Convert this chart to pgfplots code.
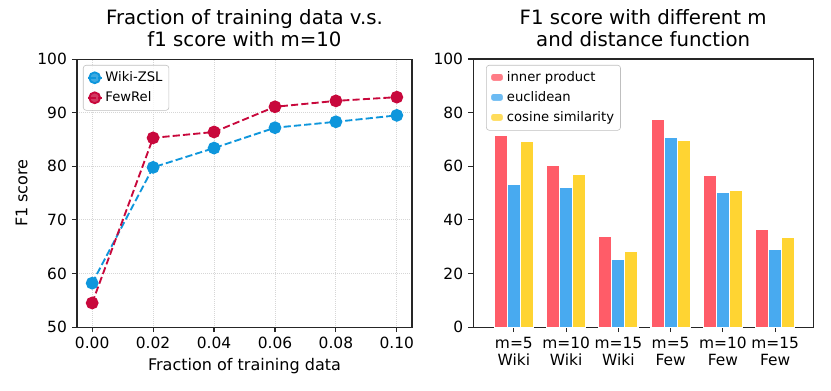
\documentclass[border=0pt]{standalone}
\usepackage{pgfplots}
\pgfplotsset{compat=1.18}
\usepackage{fontspec}
\setmainfont{DejaVu Sans}
\definecolor{wikiblue}{RGB}{14,150,220}
\definecolor{fewred}{RGB}{200,8,60}
\definecolor{ipred}{RGB}{255,92,104}
\definecolor{eublue}{RGB}{72,170,240}
\definecolor{cosyel}{RGB}{255,212,50}

\pgfplotsset{
  mpl/.style={
    scale only axis,
    height=187.4pt,
    axis line style={line width=0.8pt, draw=black!85},
    tick style={line width=0.8pt, color=black!85},
    tick align=outside,
    major tick length=3.5pt,
    xtick pos=bottom, ytick pos=left,
    tick label style={font=\fontsize{10.8}{11.6}\selectfont},
    label style={font=\fontsize{11.2}{13}\selectfont},
    title style={font=\fontsize{13.8}{15.5}\selectfont, align=center, yshift=-1pt},
    /pgf/number format/assume math mode=true,
    legend style={
      font=\fontsize{9.2}{11}\selectfont,
      cells={anchor=west},
      draw=black!25,
      rounded corners=2pt,
      fill=white, fill opacity=0.8, text opacity=1,
      inner sep=2.5pt,
      row sep=1.5pt,
      anchor=north west,
    },
  }
}

\begin{document}
\begin{tikzpicture}
\useasboundingbox (-53.8pt,-44pt) rectangle (527.2pt,228.7pt);
\begin{axis}[
  mpl,
  at={(0,0)},
  width=234.3pt,
  title={Fraction of training data v.s.\\f1 score with m=10},
  xlabel={Fraction of training data},
  ylabel={F1 score},
  xmin=-0.005, xmax=0.105,
  ymin=50, ymax=100,
  xtick={0,0.02,0.04,0.06,0.08,0.1},
  ytick={50,60,70,80,90,100},
  xticklabel style={/pgf/number format/.cd, fixed, fixed zerofill, precision=2},
  grid=major,
  grid style={densely dotted, line width=0.6pt, draw=black!16},
  legend style={at={(0.018,0.978)}},
  legend image code/.code={%
    \draw[mark repeat=2, mark phase=2] plot coordinates {(0cm,0cm) (0.17cm,0cm) (0.34cm,0cm)};},
]
\addplot[wikiblue, dash pattern=on 5pt off 2.2pt, line width=1.3pt, mark=*, mark size=3.8pt,
  mark options={solid, draw=none, fill=wikiblue}] coordinates {
  (0.00,58.2) (0.02,79.8) (0.04,83.4) (0.06,87.2) (0.08,88.3) (0.10,89.5)};
\addplot[fewred, dash pattern=on 5pt off 2.2pt, line width=1.3pt, mark=*, mark size=3.8pt,
  mark options={solid, draw=none, fill=fewred}] coordinates {
  (0.00,54.5) (0.02,85.3) (0.04,86.4) (0.06,91.1) (0.08,92.2) (0.10,92.9)};
\legend{Wiki-ZSL, FewRel}
\end{axis}

\begin{axis}[
  mpl,
  at={(277pt,0)},
  width=237.8pt,
  title={F1 score with different m\\and distance function},
  xmin=-0.78, xmax=5.73,
  ymin=0, ymax=100,
  ytick={0,20,40,60,80,100},
  xtick={0,1,2,3,4,5},
  xticklabels={{m=5\\Wiki},{m=10\\Wiki},{m=15\\Wiki},{m=5\\Few},{m=10\\Few},{m=15\\Few}},
  xticklabel style={align=center},
  ybar, bar width=0.25,
  legend style={at={(0.038,0.978)}},
  legend image code/.code={%
    \fill[#1] (0cm,-0.09cm) rectangle (0.32cm,0.11cm);},
]
\addplot[fill=ipred, draw=white, line width=0.8pt, bar shift=-0.25] coordinates {
  (0,71.4) (1,60.2) (2,33.7) (3,77.5) (4,56.6) (5,36.3)};
\addplot[fill=eublue, draw=white, line width=0.8pt, bar shift=0] coordinates {
  (0,53.2) (1,52.2) (2,25.2) (3,70.8) (4,50.3) (5,29.1)};
\addplot[fill=cosyel, draw=white, line width=0.8pt, bar shift=0.25] coordinates {
  (0,69.4) (1,57.1) (2,28.3) (3,69.8) (4,50.9) (5,33.5)};
\legend{inner product, euclidean, cosine similarity}
\end{axis}
\end{tikzpicture}
\end{document}
